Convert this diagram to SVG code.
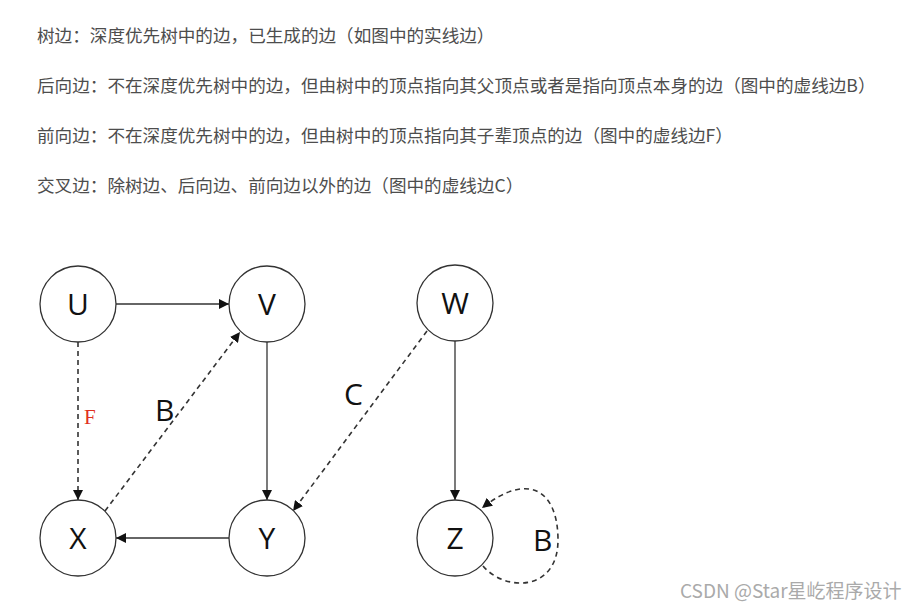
<svg xmlns="http://www.w3.org/2000/svg" width="922" height="609" viewBox="0 0 922 609">
<style>
.t{font-family:"Noto Sans CJK SC","Noto Sans",sans-serif;font-size:17.6px;fill:#4d4d4d}
.n circle{fill:#fff;stroke:#333;stroke-width:1.3}
.n text{font-family:"Open Sans","Liberation Sans",sans-serif;font-size:30px;fill:#111;text-anchor:middle}
.e{stroke:#333;stroke-width:1.3;fill:none}
.d{stroke-dasharray:5,4;stroke-width:1.6}
.lb{font-family:"Open Sans","Liberation Sans",sans-serif;font-size:30px;fill:#111}
</style>
<defs>
<marker id="a" viewBox="0 0 10 10" refX="10" refY="5" markerWidth="10" markerHeight="10" markerUnits="userSpaceOnUse" orient="auto">
<path d="M0,0L10,5L0,10z" fill="#111"/>
</marker>
</defs>
<rect width="922" height="609" fill="#fff"/>
<text class="t" x="37" y="42">树边：深度优先树中的边，已生成的边（如图中的实线边）</text>
<text class="t" x="37" y="92">后向边：不在深度优先树中的边，但由树中的顶点指向其父顶点或者是指向顶点本身的边（图中的虚线边B）</text>
<text class="t" x="37" y="142">前向边：不在深度优先树中的边，但由树中的顶点指向其子辈顶点的边（图中的虚线边F）</text>
<text class="t" x="37" y="192">交叉边：除树边、后向边、前向边以外的边（图中的虚线边C）</text>
<g id="edges">
<line class="e" x1="116" y1="304" x2="229" y2="304" marker-end="url(#a)"/>
<line class="e" x1="267" y1="342" x2="267" y2="500" marker-end="url(#a)"/>
<line class="e" x1="229" y1="538" x2="116" y2="538" marker-end="url(#a)"/>
<line class="e" x1="455" y1="341" x2="455" y2="500" marker-end="url(#a)"/>
<line class="e d" x1="78" y1="342" x2="78" y2="500" marker-end="url(#a)"/>
<line class="e d" x1="105" y1="511" x2="240" y2="332" marker-end="url(#a)"/>
<line class="e d" x1="427" y1="331" x2="293" y2="511" marker-end="url(#a)"/>
<path class="e d" d="M483,566 C505,592 558,592 558,540 C558,492 530,470 482,508" marker-end="url(#a)"/>
<text x="84" y="424" font-family="Liberation Serif,serif" font-size="21" fill="#e0301e">F</text>
<text class="lb" x="155" y="421">B</text>
<text class="lb" x="344" y="405">C</text>
<text class="lb" x="533" y="551">B</text>
</g>
<g id="U" class="n"><circle cx="78" cy="304" r="38"/><text x="78" y="315">U</text></g>
<g id="V" class="n"><circle cx="267" cy="304" r="38"/><text x="267" y="315">V</text></g>
<g id="W" class="n"><circle cx="455" cy="303" r="38"/><text x="455" y="314">W</text></g>
<g id="X" class="n"><circle cx="78" cy="538" r="38"/><text x="78" y="549">X</text></g>
<g id="Y" class="n"><circle cx="267" cy="538" r="38"/><text x="267" y="549">Y</text></g>
<g id="Z" class="n"><circle cx="455" cy="538" r="38"/><text x="455" y="549">Z</text></g>
<text x="680" y="598" font-family="Noto Sans CJK SC,Noto Sans,sans-serif" font-size="19" fill="#aaa">CSDN @Star星屹程序设计</text>
</svg>
